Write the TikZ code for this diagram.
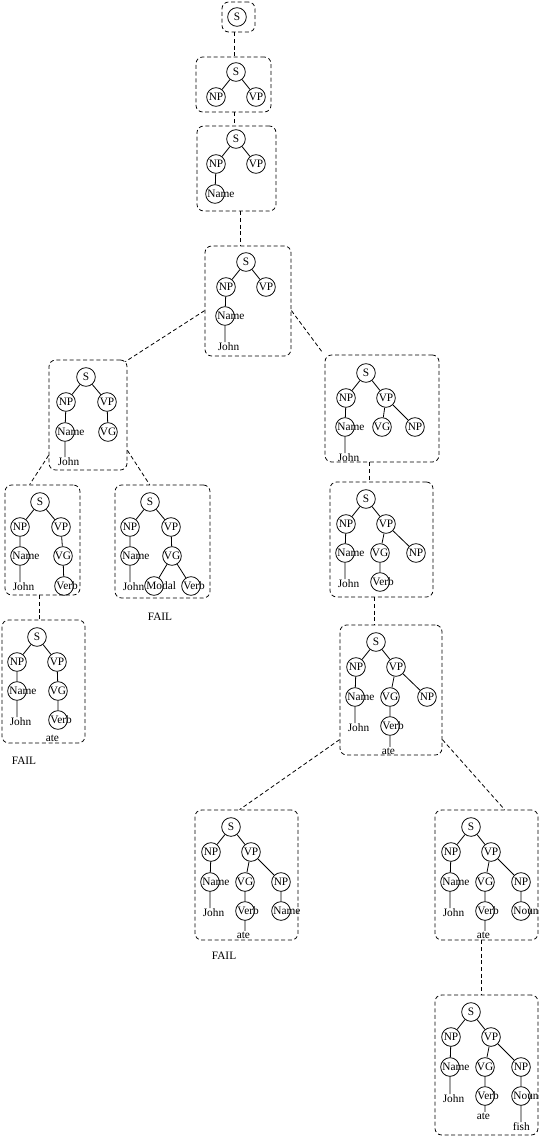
\documentclass[tikz,border=0pt]{standalone}
\usepackage{fontspec}
\setmainfont{Liberation Serif}
\usetikzlibrary{fit,calc}
\tikzset{
  circ/.style={circle,draw,line width=0.6pt,minimum size=14pt,inner sep=0pt},
  lbl/.style={inner sep=0.4pt,font=\fontsize{8.5}{9}\selectfont},
  box/.style={draw,line width=0.6pt,dash pattern=on 3pt off 2pt,rounded corners=5pt,inner sep=0pt},
  conn/.style={line width=0.6pt,dash pattern=on 3pt off 2pt},
  edge/.style={line width=0.6pt}
}
\newcommand{\tcirc}[3]{\node[circ] (#1) at (#2) {}; \node[lbl] at (#1) {#3};}
\newcommand{\lcirc}[3]{\node[circ] (#1) at (#2) {}; \node[lbl,anchor=west] at ([xshift=1pt]#1.west) {#3};}
\newcommand{\wtext}[3]{\node[lbl,anchor=west] (#1) at (#2) {#3};}
\newcommand{\mybox}[3]{\coordinate (#1-a) at (#2); \coordinate (#1-b) at (#3); \node[box,fit=(#1-a)(#1-b)] (#1) {};}
\begin{document}
\begin{tikzpicture}[x=0.75pt,y=-0.75pt]
\useasboundingbox (0,0) rectangle (547,1137);
% boxes
\mybox{b1}{222,2}{255,32}
\mybox{b2}{196,57}{271,112}
\mybox{b3}{197,126}{276,211}
\mybox{b4}{205,246}{291,356}
\mybox{b5}{49,360}{127,470}
\mybox{b6}{325,355}{439,462}
\mybox{b7}{330,482}{433,597}
\mybox{b8}{340,625}{442,755}
\mybox{b9}{5,485}{80,595}
\mybox{b10}{115,485}{210,598}
\mybox{b11}{2,620}{85,743}
\mybox{b12}{195,810}{298,940}
\mybox{b13}{435,810}{538,940}
\mybox{b14}{435,995}{538,1135}
% connectors between boxes
\draw[conn] ($(b1.south west)+(13,0)$) -- ($(b2.north west)+(39,0)$);
\draw[conn] ($(b2.south west)+(39,0)$) -- ($(b3.north west)+(38,0)$);
\draw[conn] ($(b3.south west)+(44,0)$) -- ($(b4.north west)+(36,0)$);
\draw[conn] ($(b4.north west)+(0,65)$) -- ($(b5.north east)+(-2,2)$);
\draw[conn] ($(b4.north east)+(0,65)$) -- ($(b6.north west)+(-2,-2)$);
\draw[conn] ($(b5.south west)+(0,-15)$) -- ($(b9.north west)+(25,0)$);
\draw[conn] ($(b5.south east)+(0,-20)$) -- ($(b10.north west)+(35,0)$);
\draw[conn] ($(b6.south west)+(45,0)$) -- ($(b7.north west)+(40,0)$);
\draw[conn] ($(b7.south west)+(45,0)$) -- ($(b8.north west)+(35,0)$);
\draw[conn] ($(b9.south west)+(35,0)$) -- ($(b11.north west)+(38,0)$);
\draw[conn] ($(b8.north west)+(0,115)$) -- ($(b12.north west)+(45,0)$);
\draw[conn] ($(b8.north east)+(0,115)$) -- ($(b13.north west)+(70,0)$);
\draw[conn] ($(b13.south west)+(47,0)$) -- ($(b14.north west)+(47,0)$);
% box 1
\tcirc{s1}{237,17}{S}
% box 2
\tcirc{s2}{236,72}{S}
\tcirc{np2}{216,97}{NP}
\tcirc{vp2}{256,97}{VP}
\draw[edge] (s2)--(np2) (s2)--(vp2);
% box 3
\tcirc{s3}{236,139}{S}
\tcirc{np3}{216,164}{NP}
\tcirc{vp3}{256,164}{VP}
\lcirc{nm3}{215,194}{Name}
\draw[edge] (s3)--(np3) (s3)--(vp3) (np3)--(nm3);
% box 4
\tcirc{s4}{246,262}{S}
\tcirc{np4}{226,287}{NP}
\tcirc{vp4}{266,287}{VP}
\lcirc{nm4}{225,316}{Name}
\wtext{jo4}{217,347}{John}
\draw[edge] (s4)--(np4) (s4)--(vp4) (np4)--(nm4) (nm4)--(nm4 |- jo4.north);
% box 5
\tcirc{s5}{86,377}{S}
\tcirc{np5}{66,402}{NP}
\tcirc{vp5}{107,402}{VP}
\lcirc{nm5}{65,432}{Name}
\tcirc{vg5}{108,432}{VG}
\wtext{jo5}{57,462}{John}
\draw[edge] (s5)--(np5) (s5)--(vp5) (np5)--(nm5) (vp5)--(vg5) (nm5)--(nm5 |- jo5.north);
% box 6
\tcirc{s6}{366,373}{S}
\tcirc{np6}{346,398}{NP}
\tcirc{vp6}{386,398}{VP}
\lcirc{nm6}{345,427}{Name}
\tcirc{vg6}{382,427}{VG}
\tcirc{ob6}{415,427}{NP}
\wtext{jo6}{337,458}{John}
\draw[edge] (s6)--(np6) (s6)--(vp6) (np6)--(nm6) (vp6)--(vg6) (vp6)--(ob6) (nm6)--(nm6 |- jo6.north);
% box 7
\tcirc{s7}{366,499}{S}
\tcirc{np7}{346,524}{NP}
\tcirc{vp7}{386,524}{VP}
\lcirc{nm7}{345,553}{Name}
\tcirc{vg7}{380,553}{VG}
\tcirc{ob7}{416,553}{NP}
\lcirc{vb7}{380,582}{Verb}
\wtext{jo7}{337,584}{John}
\draw[edge] (s7)--(np7) (s7)--(vp7) (np7)--(nm7) (vp7)--(vg7) (vp7)--(ob7) (vg7)--(vb7) (nm7)--(nm7 |- jo7.north);
% box 8
\tcirc{s8}{376,642}{S}
\tcirc{np8}{356,667}{NP}
\tcirc{vp8}{396,667}{VP}
\lcirc{nm8}{355,697}{Name}
\tcirc{vg8}{390,697}{VG}
\tcirc{ob8}{427,697}{NP}
\lcirc{vb8}{390,726}{Verb}
\wtext{jo8}{347,728}{John}
\wtext{at8}{381,751}{ate}
\draw[edge] (s8)--(np8) (s8)--(vp8) (np8)--(nm8) (vp8)--(vg8) (vp8)--(ob8) (vg8)--(vb8) (nm8)--(nm8 |- jo8.north) (vb8)--(vb8 |- at8.north);
% box 9
\tcirc{s9}{40,502}{S}
\tcirc{np9}{20,527}{NP}
\tcirc{vp9}{61,527}{VP}
\lcirc{nm9}{20,556}{Name}
\tcirc{vg9}{63,556}{VG}
\lcirc{vb9}{64,586}{Verb}
\wtext{jo9}{12,587}{John}
\draw[edge] (s9)--(np9) (s9)--(vp9) (np9)--(nm9) (vp9)--(vg9) (vg9)--(vb9) (nm9)--(nm9 |- jo9.north);
% box 10
\tcirc{s10}{150,502}{S}
\tcirc{np10}{130,527}{NP}
\tcirc{vp10}{171,527}{VP}
\lcirc{nm10}{130,556}{Name}
\tcirc{vg10}{172,556}{VG}
\lcirc{md10}{154,586}{Modal}
\lcirc{vb10}{191,586}{Verb}
\wtext{jo10}{122,587}{John}
\draw[edge] (s10)--(np10) (s10)--(vp10) (np10)--(nm10) (vp10)--(vg10) (vg10)--(md10) (vg10)--(vb10) (nm10)--(nm10 |- jo10.north);
\node[lbl] (f10) at (160,617) {FAIL};
% box 11
\tcirc{s11}{37,637}{S}
\tcirc{np11}{17,662}{NP}
\tcirc{vp11}{57,662}{VP}
\lcirc{nm11}{17,691}{Name}
\tcirc{vg11}{58,691}{VG}
\lcirc{vb11}{58,720}{Verb}
\wtext{jo11}{9,722}{John}
\wtext{at11}{45,738}{ate}
\draw[edge] (s11)--(np11) (s11)--(vp11) (np11)--(nm11) (vp11)--(vg11) (vg11)--(vb11) (nm11)--(nm11 |- jo11.north);
\node[lbl] (f11) at (24,761) {FAIL};
% box 12
\tcirc{s12}{231,827}{S}
\tcirc{np12}{211,852}{NP}
\tcirc{vp12}{251,852}{VP}
\lcirc{nm12}{210,882}{Name}
\tcirc{vg12}{245,882}{VG}
\tcirc{ob12}{281,882}{NP}
\lcirc{vb12}{245,911}{Verb}
\lcirc{nn12}{281,911}{Name}
\wtext{jo12}{202,913}{John}
\wtext{at12}{236,935}{ate}
\draw[edge] (s12)--(np12) (s12)--(vp12) (np12)--(nm12) (vp12)--(vg12) (vp12)--(ob12) (vg12)--(vb12) (ob12)--(nn12) (nm12)--(nm12 |- jo12.north) (vb12)--(vb12 |- at12.north);
\node[lbl] (f12) at (224,956) {FAIL};
% box 13
\tcirc{s13}{471,827}{S}
\tcirc{np13}{451,852}{NP}
\tcirc{vp13}{491,852}{VP}
\lcirc{nm13}{450,882}{Name}
\tcirc{vg13}{485,882}{VG}
\tcirc{ob13}{521,882}{NP}
\lcirc{vb13}{485,911}{Verb}
\lcirc{nn13}{521,911}{Noun}
\wtext{jo13}{442,913}{John}
\wtext{at13}{476,935}{ate}
\draw[edge] (s13)--(np13) (s13)--(vp13) (np13)--(nm13) (vp13)--(vg13) (vp13)--(ob13) (vg13)--(vb13) (ob13)--(nn13) (nm13)--(nm13 |- jo13.north) (vb13)--(vb13 |- at13.north);
% box 14
\tcirc{s14}{471,1012}{S}
\tcirc{np14}{451,1037}{NP}
\tcirc{vp14}{491,1037}{VP}
\lcirc{nm14}{450,1067}{Name}
\tcirc{vg14}{485,1067}{VG}
\tcirc{ob14}{521,1067}{NP}
\lcirc{vb14}{485,1096}{Verb}
\lcirc{nn14}{521,1096}{Noun}
\wtext{jo14}{442,1099}{John}
\wtext{at14}{476,1116}{ate}
\wtext{fi14}{512,1127}{fish}
\draw[edge] (s14)--(np14) (s14)--(vp14) (np14)--(nm14) (vp14)--(vg14) (vp14)--(ob14) (vg14)--(vb14) (ob14)--(nn14) (nm14)--(nm14 |- jo14.north) (vb14)--(vb14 |- at14.north) (nn14)--(nn14 |- fi14.north);
\end{tikzpicture}
\end{document}
